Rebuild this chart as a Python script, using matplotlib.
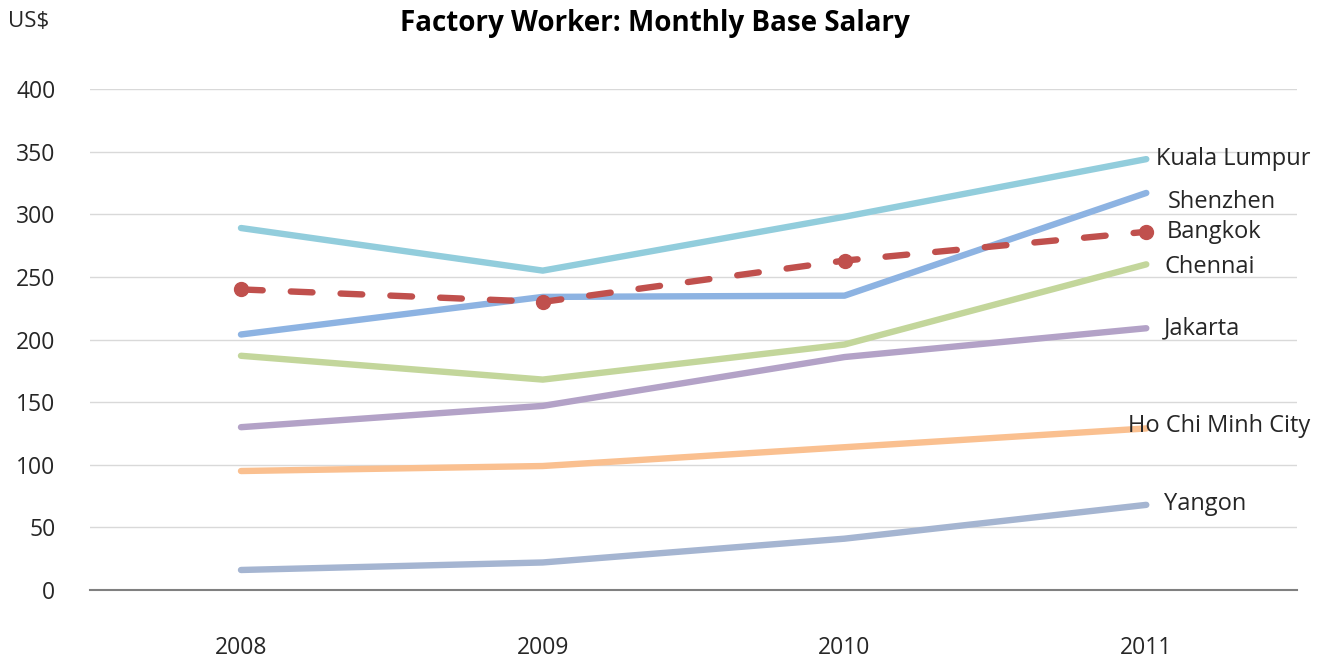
import matplotlib.pyplot as plt

years = ["2008", "2009", "2010", "2011"]

kuala_lumpur = [289, 255, 298, 344]
shenzhen = [204, 234, 235, 317]
bangkok = [240, 230, 263, 286]
chennai = [187, 168, 196, 260]
jakarta = [130, 147, 186, 209]
ho_chi_minh = [95, 99, 114, 129]
yangon = [16, 22, 41, 68]

plt.rcParams['font.family'] = ['Open Sans', 'DejaVu Sans']

fig = plt.figure(figsize=(13.25, 6.64), dpi=100)
ax = fig.add_axes([0.068, 0.1114, 0.911, 0.7546])

x = list(range(len(years)))
lw = 4.6
fs = 16.5

# (name, values, colour, label offset in px)
series = [
    ("Kuala Lumpur", kuala_lumpur, "#92CDDC", (10, 0)),
    ("Shenzhen", shenzhen, "#8DB3E2", (22, -9)),
    ("Chennai", chennai, "#C3D69B", (18, -3)),
    ("Jakarta", jakarta, "#B3A2C7", (18, 0)),
    ("Ho Chi Minh City", ho_chi_minh, "#FAC090", (-18, 2)),
    ("Yangon", yangon, "#A5B5D1", (18, 1)),
]

for name, vals, col, off in series:
    ax.plot(x, vals, color=col, lw=lw, solid_capstyle='round', zorder=3)
    ax.annotate(name, (x[-1], vals[-1]), xytext=off, textcoords='offset pixels',
                ha='left', va='center', fontsize=fs + 0.5, color='#262626', zorder=5)

ax.plot(x, bangkok, color="#C0504D", lw=lw, ls=(0, (3.4, 4.4)),
        dash_capstyle='round', marker='o', markersize=10, zorder=4)
ax.annotate("Bangkok", (x[-1], bangkok[-1]), xytext=(20, 0), textcoords='offset pixels',
            ha='left', va='center', fontsize=fs + 0.5, color='#262626', zorder=5)

ax.set_xlim(-0.5, 3.5)
ax.set_ylim(0, 400)
ax.set_yticks(range(0, 401, 50))
ax.set_xticks(x)
ax.set_xticklabels(years)
ax.grid(axis='y', color='#D9D9D9', lw=1)
ax.set_axisbelow(True)
for s in ['top', 'right', 'left']:
    ax.spines[s].set_visible(False)
ax.spines['bottom'].set_color('#808080')
ax.spines['bottom'].set_linewidth(1.5)
ax.tick_params(axis='both', length=0, labelsize=fs, labelcolor='#262626')
ax.tick_params(axis='x', pad=33)
ax.tick_params(axis='y', pad=25)

fig.text(0.494, 0.964, "Factory Worker: Monthly Base Salary", ha='center', va='center',
         fontsize=20, fontweight='bold', color='#000000')
fig.text(0.006, 0.968, "US$", ha='left', va='center', fontsize=16, color='#262626')

fig.savefig("out.png", dpi=100)
